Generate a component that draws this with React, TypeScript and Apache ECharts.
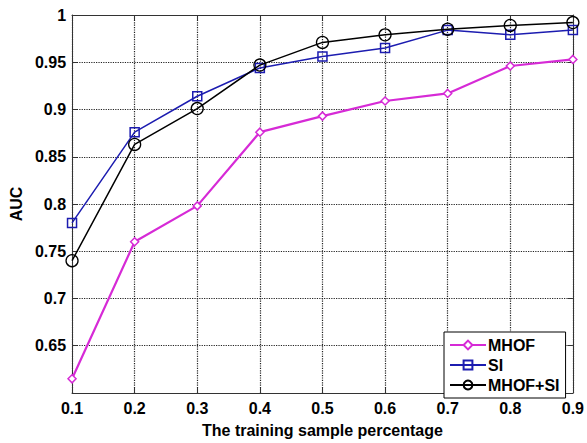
import React, { useEffect, useRef } from "react";
import * as echarts from "echarts";

const categories = ["0.1", "0.2", "0.3", "0.4", "0.5", "0.6", "0.7", "0.8", "0.9"];
const mhof = [0.615, 0.76, 0.798, 0.876, 0.893, 0.909, 0.917, 0.946, 0.953];
const si = [0.78, 0.876, 0.914, 0.944, 0.956, 0.965, 0.984, 0.979, 0.984];
const mhofSi = [0.74, 0.863, 0.901, 0.947, 0.971, 0.979, 0.985, 0.989, 0.992];

const FONT = "'Liberation Sans', Arial, sans-serif";

export default function App() {
  const ref = useRef<HTMLDivElement>(null);
  useEffect(() => {
    if (!ref.current) return;
    const chart = echarts.init(ref.current, undefined, { renderer: "svg" });
    const axisLine = { show: true, lineStyle: { color: "#333", width: 1 } };
    const tick = { show: true, inside: true, length: 5, lineStyle: { color: "#333" } };
    const dotted = { show: true, lineStyle: { color: "#222", type: "dotted" as const, width: 1.2 } };
    const labelStyle = { color: "#000", fontFamily: FONT, fontWeight: "bold" as const, fontSize: 16 };
    chart.setOption({
      animation: false,
      backgroundColor: "#fff",
      grid: { left: 72, right: 12, top: 15, bottom: 42, containLabel: false },
      legend: {
        orient: "vertical",
        left: 444,
        top: 332,
        padding: [5, 6, 5, 5],
        itemWidth: 36,
        itemHeight: 11,
        itemGap: 4,
        backgroundColor: "#fff",
        borderColor: "#000",
        borderWidth: 1,
        borderRadius: 0,
        textStyle: { ...labelStyle, lineHeight: 16, padding: [0, 0, 0, -3] },
        data: ["MHOF", "SI", "MHOF+SI"],
      },
      xAxis: [
        {
          type: "category",
          data: categories,
          boundaryGap: false,
          position: "bottom",
          name: "The training sample percentage",
          nameLocation: "middle",
          nameGap: 29,
          nameTextStyle: labelStyle,
          axisLine,
          axisTick: { ...tick, alignWithLabel: true },
          axisLabel: { ...labelStyle, margin: 7 },
          splitLine: dotted,
        },
        {
          type: "category",
          data: categories,
          boundaryGap: false,
          position: "top",
          axisLine,
          axisTick: tick,
          axisLabel: { show: false },
          splitLine: { show: false },
        },
      ],
      yAxis: [
        {
          type: "value",
          min: 0.6,
          max: 1,
          interval: 0.05,
          position: "left",
          name: "AUC",
          nameLocation: "middle",
          nameGap: 41,
          nameTextStyle: labelStyle,
          axisLine,
          axisTick: tick,
          axisLabel: {
            ...labelStyle,
            margin: 6,
            showMinLabel: false,
            formatter: (v: number) => String(+v.toFixed(2)),
          },
          splitLine: dotted,
        },
        {
          type: "value",
          min: 0.6,
          max: 1,
          interval: 0.05,
          position: "right",
          axisLine,
          axisTick: tick,
          axisLabel: { show: false },
          splitLine: { show: false },
        },
      ],
      series: [
        {
          name: "MHOF",
          type: "line",
          data: mhof,
          color: "#d62ad6",
          lineStyle: { width: 2.2, color: "#d62ad6" },
          symbol: "diamond",
          symbolSize: 8,
          itemStyle: { color: "#fff", borderColor: "#d62ad6", borderWidth: 1.5 },
          z: 3,
        },
        {
          name: "SI",
          type: "line",
          data: si,
          color: "#1c1cb0",
          lineStyle: { width: 1.5, color: "#1c1cb0" },
          symbol: "rect",
          symbolSize: 9,
          itemStyle: { color: "rgba(255,255,255,0)", borderColor: "#1c1cb0", borderWidth: 1.5 },
          z: 4,
        },
        {
          name: "MHOF+SI",
          type: "line",
          data: mhofSi,
          color: "#000",
          lineStyle: { width: 1.5, color: "#000" },
          symbol: "circle",
          symbolSize: 12,
          itemStyle: { color: "rgba(255,255,255,0)", borderColor: "#000", borderWidth: 1.3 },
          z: 5,
        },
      ],
    });
    return () => chart.dispose();
  }, []);
  return (
    <div
      ref={ref}
      style={{ position: "fixed", left: 0, top: 0, width: 587, height: 443, background: "#fff" }}
    />
  );
}
